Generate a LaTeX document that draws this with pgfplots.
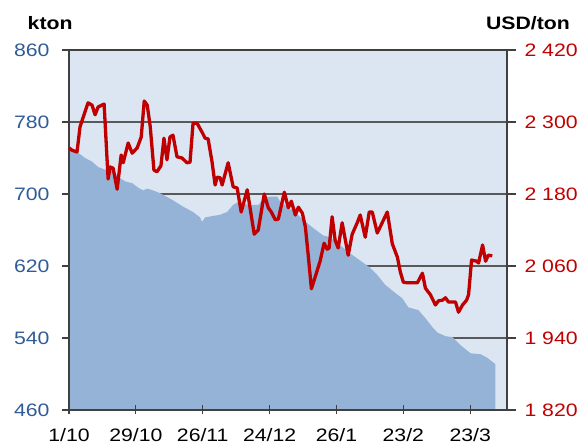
\documentclass[border=0pt]{standalone}
\usepackage{pgfplots}
\pgfplotsset{compat=1.18}
\usepackage{fontspec}
\setmainfont{Liberation Sans}[FakeStretch=1.18]
\definecolor{bgblue}{HTML}{DCE6F2}
\definecolor{areablue}{HTML}{95B3D7}
\definecolor{lineRed}{HTML}{C00000}
\definecolor{tickblue}{HTML}{2F5B97}
\definecolor{gridgray}{HTML}{595959}
\definecolor{framegray}{HTML}{404040}

\pgfplotstableread{
idx kton
0 751
2.7 746
4.8 740
6.9 736
8.7 730
10.8 727
13.2 725
14.7 719
16.8 714
18.9 712
20.7 707
22.2 704
23.4 706
25.1 704
27.2 701
31.1 693
34.1 686
37.1 680
39.2 674
39.8 669
40.7 674
45.2 677
47.3 680
49.1 688
50.6 691
53.6 688
56.6 688
58.7 696
60.2 697
62.3 697
63.2 691
64.1 690
65.3 684
67.1 682
70.1 671
73.1 662
76.0 654
78.1 652
81.1 643
84.1 634
87.1 626
90.1 618
92.2 610
94.6 599
97.6 590
99.7 584
101.5 574
104.5 571
106.6 562
108.7 552
110.2 546
112.6 542
114.7 541
117.1 532
120.1 523
123.1 522
125.1 518
127.5 511
}\stocks

\pgfplotstableread{
idx usd
0 2257
0.9 2253
2.4 2250
3.3 2292
5.7 2332
6.9 2328
7.8 2312
8.7 2325
10.5 2330
11.7 2205
12.3 2225
13.2 2223
14.4 2188
15.6 2245
16.2 2232
17.7 2265
18.9 2248
20.4 2257
21.6 2275
22.5 2335
23.4 2328
24.3 2292
25.4 2220
26.3 2217
27.5 2227
28.4 2273
29.3 2237
30.2 2275
31.1 2278
32.3 2242
33.8 2240
35.3 2232
36.2 2233
37.1 2298
38.3 2298
39.8 2283
40.7 2273
41.6 2272
42.8 2233
43.7 2195
44.3 2208
45.2 2207
45.8 2195
47.6 2232
49.1 2192
50.3 2190
51.5 2150
53.3 2187
55.4 2113
56.6 2120
58.4 2180
59.6 2157
60.5 2150
61.7 2137
62.6 2138
64.4 2183
65.6 2157
66.5 2168
67.7 2145
68.6 2158
69.8 2148
70.7 2125
71.6 2075
72.5 2022
73.7 2043
75.1 2068
76.3 2098
77.2 2088
77.8 2090
78.7 2142
79.6 2103
80.5 2090
81.7 2132
82.6 2105
83.5 2078
84.7 2113
86.2 2132
87.1 2145
88.6 2108
89.8 2150
90.7 2150
92.2 2115
95.2 2150
96.7 2097
98.2 2075
99.1 2050
100.0 2033
101.2 2032
104.2 2032
105.7 2048
106.6 2023
108.1 2012
109.6 1995
110.5 2002
111.7 2003
112.6 2007
113.5 2000
115.6 2000
116.5 1983
117.7 1995
118.9 2003
119.5 2012
120.4 2070
121.9 2068
122.5 2065
123.7 2095
124.6 2068
125.4 2078
126.6 2077
}\price

\begin{document}
\begin{tikzpicture}
\pgfplotsset{
  every axis/.append style={
    scale only axis, width=438pt, height=360pt, xmin=0, xmax=131,
    font=\fontsize{18}{21}\selectfont,
    /pgf/number format/assume math mode=true,
    tick style={framegray, line width=1.2pt},
  }
}
\begin{axis}[name=ax,
  ymin=460, ymax=860, ytick={460,540,620,700,780,860},
  yticklabels={460,540,620,700,780,860},
  ytick pos=left, ytick align=outside, major tick length=7pt,
  xtick=\empty,
  axis line style={draw=none},
  axis background/.style={fill=bgblue},
  ymajorgrids, major grid style={gridgray, line width=1.2pt},
  yticklabel style={text=tickblue, xshift=-9pt},
]
\addplot[fill=areablue, draw=none] table[x=idx, y=kton] {\stocks} \closedcycle;
\end{axis}
\begin{axis}[
  ymin=1820, ymax=2420, ytick={1820,1940,2060,2180,2300,2420},
  yticklabels={1 820,1 940,2 060,2 180,2 300,2 420},
  yticklabel pos=right, ytick pos=right, ytick align=outside,
  xtick={0,20,40,60,80,100,120},
  xticklabels={1/10,29/10,26/11,24/12,26/1,23/2,23/3},
  xtick pos=bottom, xtick align=center, major tick length=9pt,
  axis line style={framegray, line width=1.3pt},
  yticklabel style={text=lineRed, xshift=5pt},
  xticklabel style={text=black, yshift=-10pt},
  clip=false,
]
\addplot[lineRed, line width=3.3pt, line join=round] table[x=idx, y=usd] {\price};
\node[font=\bfseries\fontsize{18}{21}\selectfont] at (rel axis cs:-0.043,1.075) {kton};
\node[font=\bfseries\fontsize{18}{21}\selectfont] at (rel axis cs:1.048,1.075) {USD/ton};
\end{axis}
\pgfresetboundingbox
\path ([shift={(-69pt,-37pt)}]ax.south west) rectangle ([shift={(74pt,50pt)}]ax.north east);
\end{tikzpicture}
\end{document}
